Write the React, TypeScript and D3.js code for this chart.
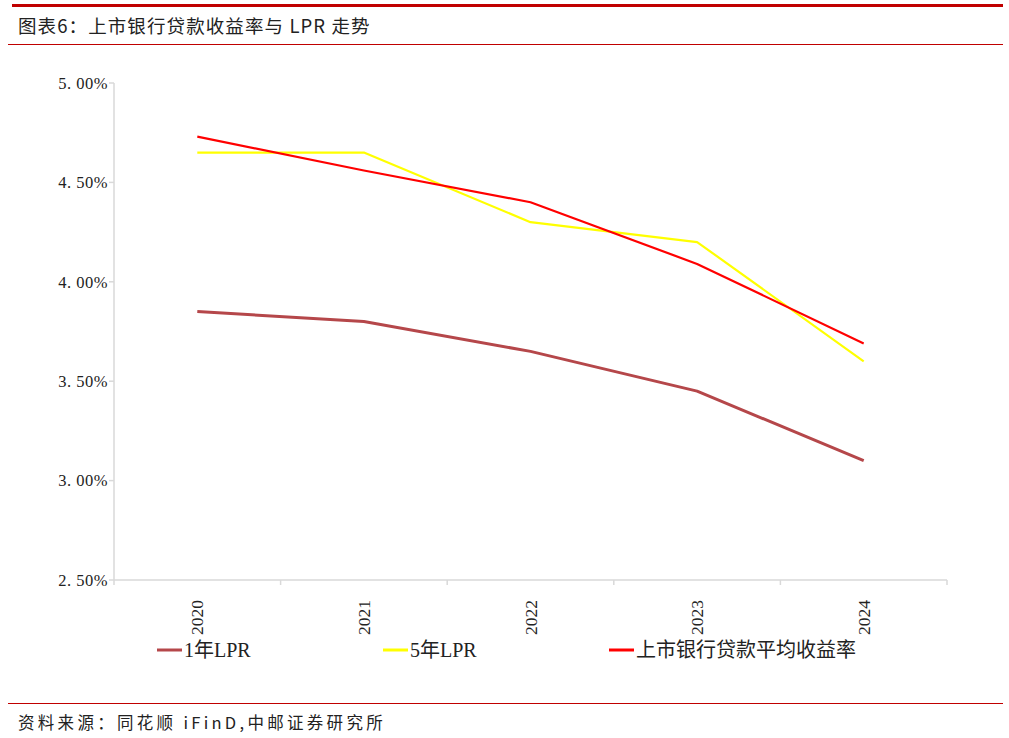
import React from "react";
import * as d3 from "d3";

const years = ["2020", "2021", "2022", "2023", "2024"];
const lpr1y = [3.85, 3.8, 3.65, 3.45, 3.1];
const lpr5y = [4.65, 4.65, 4.3, 4.2, 3.6];
const bankYield = [4.73, 4.56, 4.4, 4.09, 3.69];
const yTicks = [2.5, 3.0, 3.5, 4.0, 4.5, 5.0];
const seriesNames = ["1年LPR", "5年LPR", "上市银行贷款平均收益率"];

const W = 1009;
const H = 738;
const left = 114;
const right = 947;
const top = 83;
const bottom = 580;

export default function App() {
  const x = d3.scaleBand<string>().domain(years).range([left, right]);
  const y = d3.scaleLinear().domain([2.5, 5.0]).range([bottom, top]);
  const cx = (i: number) => (x(years[i]) as number) + x.bandwidth() / 2;
  const line = d3
    .line<number>()
    .x((_, i) => cx(i))
    .y((d) => y(d));

  const series = [
    { name: seriesNames[0], data: lpr1y, color: "#b5474a", width: 3, lx: 157 },
    { name: seriesNames[1], data: lpr5y, color: "#ffff00", width: 2.2, lx: 383 },
    { name: seriesNames[2], data: bankYield, color: "#ff0000", width: 2.2, lx: 609 },
  ];
  const boundaries = years.map((yr) => x(yr) as number).concat([right]);
  const serif = "'Liberation Serif', 'Times New Roman', 'Noto Sans CJK SC', serif";
  const sans = "'Noto Sans CJK SC', 'DejaVu Sans', sans-serif";

  return (
    <svg
      width={W}
      height={H}
      style={{ position: "absolute", left: 0, top: 0, background: "#fff" }}
    >
      <rect x={0} y={0} width={W} height={H} fill="#fff" />
      {/* header */}
      <line x1={12} x2={1003} y1={5.5} y2={5.5} stroke="#c00000" strokeWidth={3} />
      <text x={18} y={33} fontFamily={sans} fontSize={18.5} fill="#222" fontWeight={400} letterSpacing={1.1}>
        图表6：上市银行贷款收益率与 LPR 走势
      </text>
      <line x1={8} x2={1003} y1={44.5} y2={44.5} stroke="#c00000" strokeWidth={1.2} />

      {/* y axis */}
      <line x1={left} x2={left} y1={top} y2={bottom} stroke="#d9d9d9" strokeWidth={1.5} />
      {yTicks.map((t) => (
        <g key={t}>
          <line x1={left - 5} x2={left} y1={y(t)} y2={y(t)} stroke="#d9d9d9" strokeWidth={1.5} />
          <text
            x={left - 6}
            y={y(t)}
            dy="0.35em"
            textAnchor="end"
            fontFamily={serif}
            fontSize={16.5}
            fill="#222"
            letterSpacing={0.5}
          >
            {t.toFixed(2).replace(".", ". ") + "%"}
          </text>
        </g>
      ))}

      {/* x axis */}
      <line x1={left} x2={right} y1={bottom} y2={bottom} stroke="#d9d9d9" strokeWidth={1.5} />
      {boundaries.map((b, i) => (
        <line key={i} x1={b} x2={b} y1={bottom} y2={bottom + 5} stroke="#d9d9d9" strokeWidth={1.5} />
      ))}
      {years.map((yr, i) => (
        <text
          key={yr}
          transform={`translate(${cx(i) + 6},600) rotate(-90)`}
          textAnchor="end"
          fontFamily={serif}
          fontSize={17.5}
          fill="#222"
        >
          {yr}
        </text>
      ))}

      {/* lines */}
      {series.map((s) => (
        <path
          key={s.name}
          d={line(s.data) || ""}
          fill="none"
          stroke={s.color}
          strokeWidth={s.width}
          strokeLinejoin="round"
        />
      ))}

      {/* legend */}
      {series.map((s) => (
        <g key={s.name + "-lg"}>
          <line x1={s.lx} x2={s.lx + 25} y1={650} y2={650} stroke={s.color} strokeWidth={3} />
          <text x={s.lx + 27} y={657} fontFamily={serif} fontSize={20} fill="#222">
            {s.name}
          </text>
        </g>
      ))}

      {/* footer */}
      <line x1={8} x2={1003} y1={703.5} y2={703.5} stroke="#c00000" strokeWidth={1.2} />
      <text x={18} y={729} fontFamily={sans} fontSize={16.5} fill="#222" letterSpacing={3.3}>
        资料来源：同花顺 iFinD,中邮证券研究所
      </text>
    </svg>
  );
}
